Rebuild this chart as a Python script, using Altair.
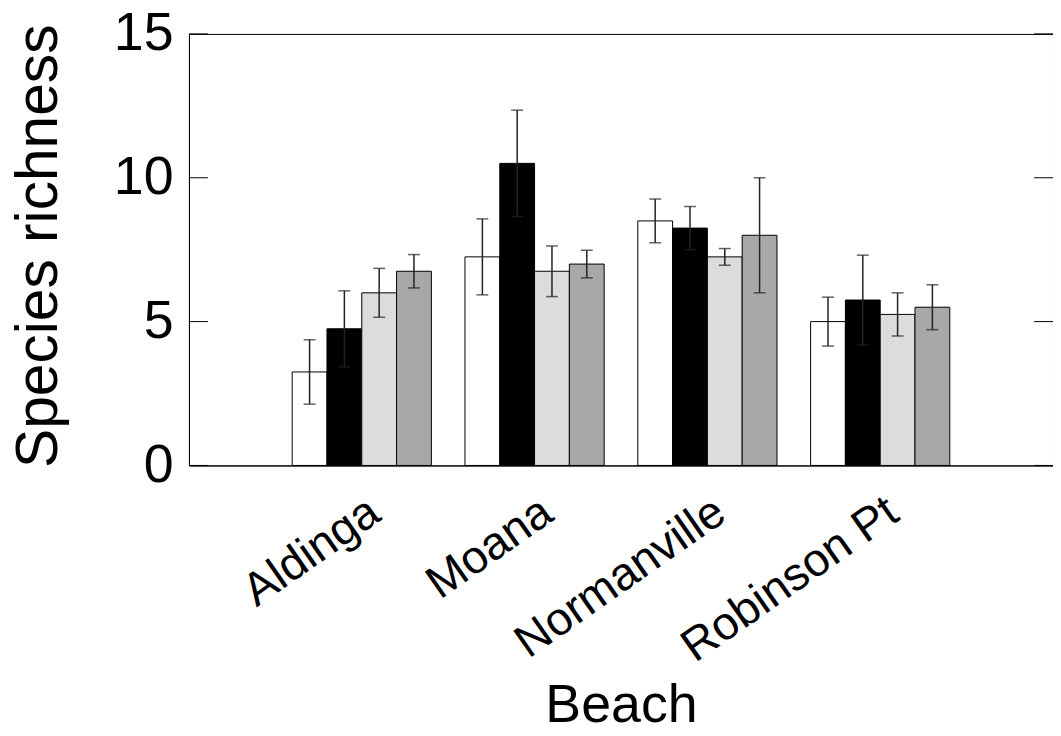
import altair as alt
import pandas as pd

beaches = ["Aldinga", "Moana", "Normanville", "Robinson Pt"]
treatments = ["Treatment 1", "Treatment 2", "Treatment 3", "Treatment 4"]
fills = ["#ffffff", "#000000", "#dcdcdc", "#a8a8a8"]

# mean species richness per beach, one list per treatment
t1_mean = [3.25, 7.25, 8.5, 5.0]
t2_mean = [4.75, 10.5, 8.25, 5.75]
t3_mean = [6.0, 6.75, 7.25, 5.25]
t4_mean = [6.75, 7.0, 8.0, 5.5]
# standard errors
t1_err = [1.12, 1.32, 0.76, 0.85]
t2_err = [1.32, 1.85, 0.75, 1.56]
t3_err = [0.85, 0.88, 0.29, 0.75]
t4_err = [0.58, 0.48, 2.0, 0.78]

y_ticks = [0, 5, 10, 15]

rows = []
for t, ms, es in zip(treatments, [t1_mean, t2_mean, t3_mean, t4_mean],
                     [t1_err, t2_err, t3_err, t4_err]):
    for b, m, e in zip(beaches, ms, es):
        rows.append({"beach": b, "treatment": t, "mean": m,
                     "low": m - e, "high": m + e})
df = pd.DataFrame(rows)
ticks_df = pd.DataFrame({"t": y_ticks})

W, H = 869, 434
FONT = "Liberation Sans"

x_enc = alt.X("beach:N", sort=beaches,
              scale=alt.Scale(paddingInner=0, paddingOuter=0.5),
              axis=alt.Axis(title="Beach", labelAngle=325, labelAlign="right",
                            labelBaseline="top", labelPadding=23, ticks=False,
                            labelLimit=0, labelOverlap=False,
                            labelFontSize=46.5, titleFontSize=54,
                            titleFontWeight="normal", titleX=W / 2, titleY=258,
                            titleBaseline="alphabetic", domainColor="#000",
                            labelColor="#000", titleColor="#000"))
xo_enc = alt.XOffset("treatment:N", sort=treatments,
                     scale=alt.Scale(paddingInner=0, paddingOuter=0.483))

bars = alt.Chart(df).mark_bar(stroke="#000", strokeWidth=1).encode(
    x=x_enc,
    xOffset=xo_enc,
    y=alt.Y("mean:Q", scale=alt.Scale(domain=[0, 15], nice=False),
            axis=alt.Axis(title="Species richness", values=y_ticks, ticks=False,
                          grid=False, labelFontSize=54, labelPadding=16,
                          titleFontSize=59, titleFontWeight="normal",
                          titleX=-133, titleY=H / 2 - 4, titleBaseline="alphabetic",
                          domainColor="#000", labelColor="#000",
                          titleColor="#000")),
    fill=alt.Fill("treatment:N", sort=treatments,
                  scale=alt.Scale(domain=treatments, range=fills), legend=None),
)

err = alt.Chart(df).mark_rule(color="#222", strokeWidth=1.5).encode(
    x=alt.X("beach:N", sort=beaches),
    xOffset=alt.XOffset("treatment:N", sort=treatments),
    y=alt.Y("low:Q"),
    y2="high:Q",
)
cap_hi = alt.Chart(df).mark_tick(color="#222", thickness=1.5, size=12).encode(
    x=alt.X("beach:N", sort=beaches),
    xOffset=alt.XOffset("treatment:N", sort=treatments),
    y=alt.Y("high:Q"),
)
cap_lo = alt.Chart(df).mark_tick(color="#222", thickness=1.5, size=12).encode(
    x=alt.X("beach:N", sort=beaches),
    xOffset=alt.XOffset("treatment:N", sort=treatments),
    y=alt.Y("low:Q"),
)
left_ticks = alt.Chart(ticks_df).mark_rule(color="#000", strokeWidth=1).encode(
    x=alt.value(0), x2=alt.value(19), y=alt.Y("t:Q"))
right_ticks = alt.Chart(ticks_df).mark_rule(color="#000", strokeWidth=1).encode(
    x=alt.value(W - 19), x2=alt.value(W), y=alt.Y("t:Q"))

chart = alt.layer(bars, err, cap_hi, cap_lo, left_ticks, right_ticks).properties(
    width=W, height=H,
    autosize=alt.AutoSizeParams(type="none"),
    padding={"left": 182, "top": 24, "right": 0, "bottom": 262},
).configure(font=FONT).configure_view(stroke="#000", strokeWidth=1)

chart.save("out.html", embed_options={"renderer": "svg", "actions": False})
